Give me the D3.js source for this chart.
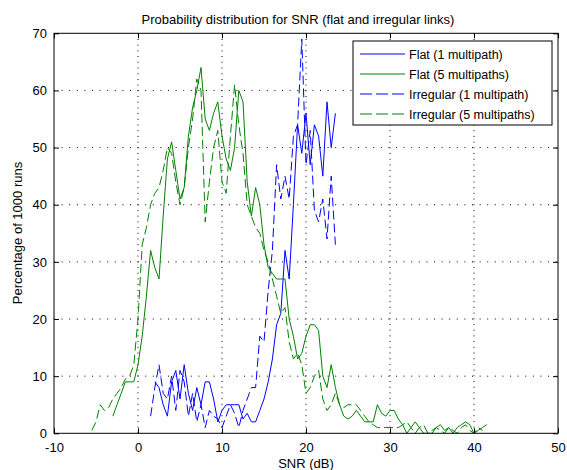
<!DOCTYPE html>
<html>
<head>
<meta charset="utf-8">
<script src="https://cdn.jsdelivr.net/npm/d3@7"></script>
<style>
    body { margin: 0; background: #fff; }
    svg text { font-family: "Liberation Sans", Arial, sans-serif; fill: #000; }
</style>
</head>
<body>
<div id="chart"></div>
<script>
// x ticks, y ticks
var xTicks = [-10, 0, 10, 20, 30, 40, 50];
var yTicks = [0, 10, 20, 30, 40, 50, 60, 70];

// Flat (1 multipath)
var flat1X = [2,2.5,3,3.5,4,4.5,5,5.5,6,6.5,7,7.5,8,8.5,9,9.5,10,10.5,11,11.5,12,12.5,13,13.5,14,14.5,15,15.5,16,16.5,17,17.5,18,18.5,19,19.5,20,20.5,21,21.5,22,22.5,23,23.5];
var flat1Y = [9,8,5,3,9,11,6,12,7,4,8,5,9,9,6,2,4,5,5,5,5,2.5,3.5,2,2,4,6,9,13,19,21,32,27,40,54,49,56,47,54,52,45,58,50,56];

// Flat (5 multipaths)
var flat5X = [-3,-2.5,-2,-1.5,-1,-0.5,0,0.5,1,1.5,2,2.5,3,3.5,4,4.5,5,5.5,6,6.5,7,7.5,8,8.5,9,9.5,10,10.5,11,11.5,12,12.5,13,13.5,14,14.5,15,15.5,16,16.5,17,17.5,18,18.5,19,19.5,20,20.5,21,21.5,22,22.5,23,23.5,24,24.5,25,25.5,26,26.5,27,27.5,28,28.5,29,29.5,30,30.5,31,31.5,32,32.5,33,33.5,34,34.5,35,35.5,36,36.5,37,37.5,38,38.5,39,39.5,40,40.5,41,41.5];
var flat5Y = [3,5,7,9,9,9,12,17,24,32,29,27,38,48,51,46,41,43,52,57,60,64,55,53,56,58,52,48,46,50,60,58,44,38,43,40,33,29,28,27,27,27,20,17,13,14,17,19,19,18,10,8,12,8,5,3,2.5,3,4,3,2,2,2,5,3.5,3,4,4,2.5,1.5,0,1,2,1,0,0,0,1,1.5,0.5,1,0,1,1.5,2,1.5,0,0.5,1,1.5];

// Irregular (1 multipath)
var irr1X = [1.5,2,2.5,3,3.5,4,4.5,5,5.5,6,6.5,7,7.5,8,8.5,9,9.5,10,10.5,11,11.5,12,12.5,13,13.5,14,14.5,15,15.5,16,16.5,17,17.5,18,18.5,19,19.5,20,20.5,21,21.5,22,22.5,23,23.5];
var irr1Y = [3,8,12,7,6,10,4,11,9,3,7,2,5,1,4,3,2.5,1,3,5,3.5,1,4,6,8,8,17,16,25,32,47,41,45,41,52,54,69,47,53,39,37,41,34,45,33];

// Irregular (5 multipaths)
var irr5X = [-5.5,-5,-4.5,-4,-3.5,-3,-2.5,-2,-1.5,-1,-0.5,0,0.5,1,1.5,2,2.5,3,3.5,4,4.5,5,5.5,6,6.5,7,7.5,8,8.5,9,9.5,10,10.5,11,11.5,12,12.5,13,13.5,14,14.5,15,15.5,16,16.5,17,17.5,18,18.5,19,19.5,20,20.5,21,21.5,22,22.5,23,23.5,24,24.5,25,25.5,26,26.5,27,27.5,28,28.5,29,29.5,30,30.5,31,31.5,32,32.5,33,33.5,34,34.5,35,35.5,36,36.5,37,37.5,38,38.5,39,39.5,40,40.5,41];
var irr5Y = [0.5,2,5,4,4.5,6,7,8,9.5,10,12,20,33,36,40,42,43,46,50,49,44,40,43,50,55,62,60,37,44,50,53,44,42,52,61,54,49,40,38,36,35,32,30,27,24,21,22,16,13,14,12,7,8,10,11,6,4,5,7,5,4.5,5,5,5,4,3,2,1.5,1,1,1,1,1,1,1.5,2,1,0,1,1.5,0,0.5,1,0.5,0,1,0.5,0,1,1.5,0.5,0,1,0.5];

var seriesNames = ['Flat (1 multipath)', 'Flat (5 multipaths)', 'Irregular (1 multipath)', 'Irregular (5 multipaths)'];

var W = 567, H = 470;
var margin = {left: 54, top: 33.3, right: 9, bottom: 36.7};
var plotW = W - margin.left - margin.right,
    plotH = H - margin.top - margin.bottom;

var svg = d3.select('#chart').append('svg')
    .attr('width', W)
    .attr('height', H);

var x = d3.scaleLinear().domain([-10, 50]).range([0, plotW]);
var y = d3.scaleLinear().domain([0, 70]).range([plotH, 0]);

var g = svg.append('g')
    .attr('transform', 'translate(' + margin.left + ',' + margin.top + ')');

// grid, dotted like matlab
g.append('g').selectAll('line')
    .data(xTicks.slice(1, -1))
    .enter().append('line')
    .attr('x1', d => x(d)).attr('x2', d => x(d))
    .attr('y1', 0).attr('y2', plotH)
    .attr('stroke', '#000')
    .attr('stroke-width', 1)
    .attr('stroke-dasharray', '1,4.7');

g.append('g').selectAll('line')
    .data(yTicks.slice(1, -1))
    .enter().append('line')
    .attr('y1', d => y(d)).attr('y2', d => y(d))
    .attr('x1', 0).attr('x2', plotW)
    .attr('stroke', '#000')
    .attr('stroke-width', 1)
    .attr('stroke-dasharray', '1,6.6');

// data lines
var clip = svg.append('defs').append('clipPath').attr('id', 'plotclip')
    .append('rect').attr('width', plotW).attr('height', plotH);

var line = d3.line()
    .x(d => x(d[0]))
    .y(d => y(d[1]));

var series = [
    {xs: flat1X, ys: flat1Y, color: '#0000ff', dash: null},
    {xs: flat5X, ys: flat5Y, color: '#008000', dash: null},
    {xs: irr1X, ys: irr1Y, color: '#0000ff', dash: '9,4'},
    {xs: irr5X, ys: irr5Y, color: '#008000', dash: '9,4'}
];

var lines = g.append('g').attr('clip-path', 'url(#plotclip)');
series.forEach(function(s) {
    var pts = s.xs.map((v, i) => [v, s.ys[i]]);
    lines.append('path')
        .datum(pts)
        .attr('d', line)
        .attr('fill', 'none')
        .attr('stroke', s.color)
        .attr('stroke-width', 1)
        .attr('stroke-dasharray', s.dash);
});

// axes - ticks point inward, box round the plot
var fmt = d => String(d);
var xAxis = d3.axisBottom(x).tickValues(xTicks).tickFormat(fmt).tickSizeInner(-5).tickSizeOuter(0).tickPadding(9);
var yAxis = d3.axisLeft(y).tickValues(yTicks).tickFormat(fmt).tickSizeInner(-5).tickSizeOuter(0).tickPadding(9);

var gx = g.append('g').attr('transform', 'translate(0,' + plotH + ')').call(xAxis);
var gy = g.append('g').call(yAxis);

g.append('g').call(d3.axisTop(x).tickValues(xTicks).tickSizeInner(-5).tickSizeOuter(0).tickFormat(''));
g.append('g').attr('transform', 'translate(' + plotW + ',0)')
    .call(d3.axisRight(y).tickValues(yTicks).tickSizeInner(-5).tickSizeOuter(0).tickFormat(''));

svg.selectAll('.domain').remove();
g.selectAll('.tick line').attr('stroke', '#000');
g.selectAll('.tick text').attr('font-size', '13px').attr('fill', '#000')
    .style('font-family', '"Liberation Sans", Arial, sans-serif');
gy.selectAll('.tick text').attr('dx', '2');

g.append('rect')
    .attr('width', plotW).attr('height', plotH)
    .attr('fill', 'none')
    .attr('stroke', '#000')
    .attr('stroke-width', 1);

// title and labels
svg.append('text')
    .attr('x', 298).attr('y', 24)
    .attr('text-anchor', 'middle')
    .attr('font-size', '13px')
    .text('Probability distribution for SNR (flat and irregular links)');

svg.append('text')
    .attr('x', 306).attr('y', 468)
    .attr('text-anchor', 'middle')
    .attr('font-size', '13px')
    .text('SNR (dB)');

svg.append('text')
    .attr('transform', 'translate(22,233) rotate(-90)')
    .attr('text-anchor', 'middle')
    .attr('font-size', '13px')
    .text('Percentage of 1000 runs');

// legend
var legend = svg.append('g').attr('transform', 'translate(353,41)');
legend.append('rect')
    .attr('width', 199).attr('height', 84)
    .attr('fill', '#fff')
    .attr('stroke', '#000')
    .attr('stroke-width', 1);

var items = legend.selectAll('.leg-item')
    .data(series)
    .enter().append('g')
    .attr('class', 'leg-item')
    .attr('transform', (d, i) => 'translate(0,' + (13 + i * 20) + ')');

items.append('line')
    .attr('x1', 7).attr('x2', 52)
    .attr('stroke', d => d.color)
    .attr('stroke-width', 1)
    .attr('stroke-dasharray', d => d.dash ? '12,4' : null);

items.append('text')
    .attr('x', 56).attr('y', 4.5)
    .attr('font-size', '12.5px')
    .text((d, i) => seriesNames[i]);
</script>
</body>
</html>
